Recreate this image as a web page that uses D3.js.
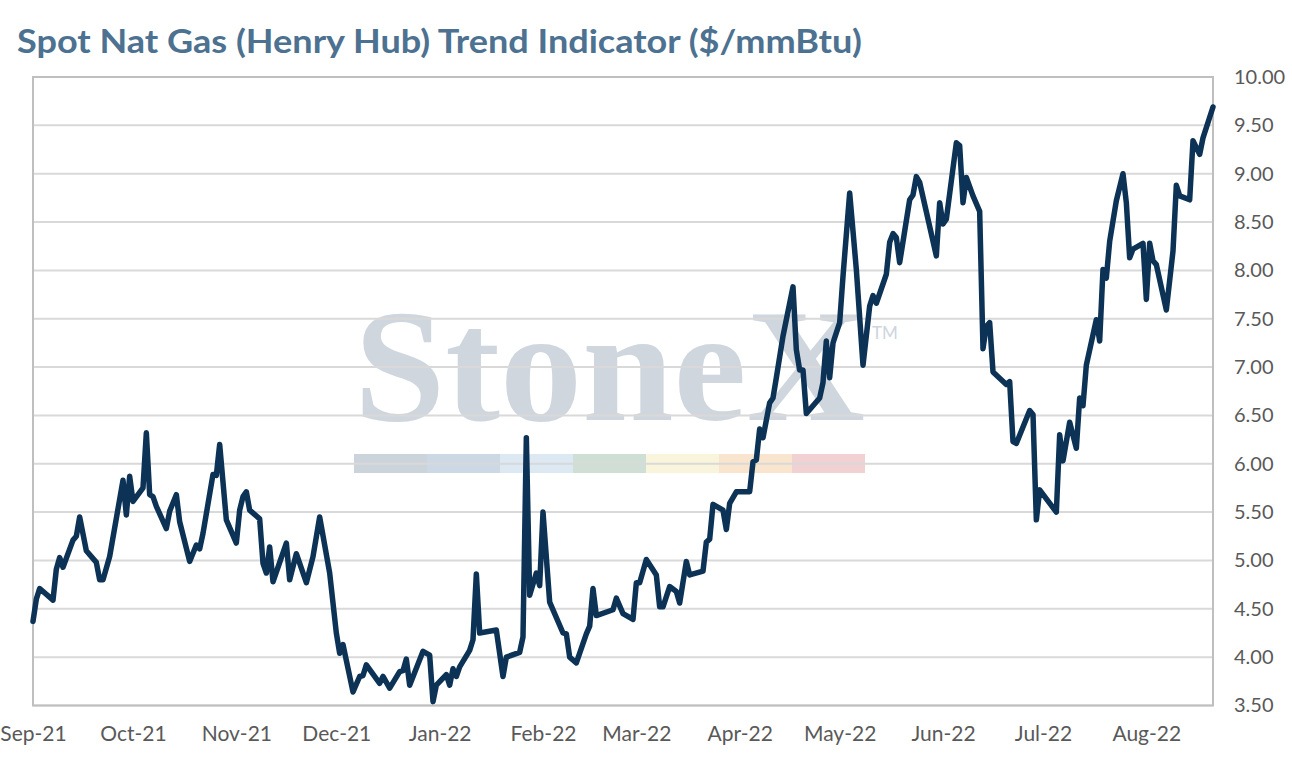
<!DOCTYPE html>
<html>
<head>
<meta charset="utf-8">
<script src="https://cdn.jsdelivr.net/npm/d3@7"></script>
<style>
  body { margin: 0; background: #fff; }
</style>
</head>
<body>
<div id="chart"></div>
<script>
// chart data
// days since 1 Sep 2021 and the spot price on that day
var days = [
  0, 1, 2, 6, 7, 8, 9, 12, 13, 14, 16, 19, 20, 21, 23, 27, 28, 29, 30, 33,
  34, 35, 36, 37, 40, 41, 43, 44, 47, 49, 50, 51, 54, 55, 56, 58, 61, 62, 63, 64,
  65, 68, 69, 70, 71, 72, 76, 77, 79, 82, 84, 86, 89, 91, 92, 93, 96, 98, 99, 100,
  104, 105, 107, 110, 111, 112, 113, 117, 119, 120, 121, 124, 125, 126, 127, 128, 131, 132, 133, 134,
  139, 141, 142, 146, 147, 148, 149, 151, 152, 153, 155, 159, 160, 161, 163, 166, 167, 168, 169, 174,
  175, 177, 180, 181, 182, 184, 187, 188, 189, 191, 193, 194, 196, 197, 201, 202, 203, 204, 207, 208,
  209, 211, 215, 216, 217, 218, 219, 221, 222, 223, 225, 228, 229, 230, 231, 232, 236, 237, 238, 239,
  240, 242, 243, 245, 247, 249, 251, 252, 253, 256, 257, 258, 259, 260, 263, 264, 265, 266, 271, 272,
  273, 274, 277, 278, 279, 280, 282, 284, 285, 286, 287, 288, 292, 293, 294, 295, 299, 300, 301, 302,
  307, 308, 309, 311, 313, 314, 315, 316, 319, 320, 321, 322, 323, 325, 327, 328, 329, 330, 333, 334,
  335, 336, 337, 340, 342, 343, 344, 347, 348, 350, 351, 354
];
var prices = [
  4.37, 4.60, 4.71, 4.59, 4.91, 5.03, 4.93, 5.21, 5.25, 5.45, 5.10, 4.98, 4.80, 4.80, 5.04, 5.83, 5.47, 5.87, 5.61, 5.75,
  6.32, 5.68, 5.66, 5.56, 5.33, 5.51, 5.68, 5.40, 4.99, 5.16, 5.12, 5.28, 5.89, 5.88, 6.20, 5.42, 5.18, 5.52, 5.66, 5.71,
  5.52, 5.43, 4.97, 4.87, 5.14, 4.78, 5.18, 4.80, 5.07, 4.77, 5.04, 5.45, 4.87, 4.25, 4.04, 4.13, 3.64, 3.80, 3.81, 3.92,
  3.73, 3.80, 3.68, 3.85, 3.86, 3.98, 3.71, 4.06, 4.02, 3.54, 3.71, 3.82, 3.71, 3.88, 3.80, 3.90, 4.07, 4.18, 4.86, 4.25,
  4.28, 3.80, 4.00, 4.05, 4.21, 6.27, 4.64, 4.87, 4.74, 5.50, 4.57, 4.25, 4.24, 4.00, 3.94, 4.24, 4.32, 4.71, 4.43, 4.49,
  4.61, 4.45, 4.39, 4.77, 4.77, 5.01, 4.85, 4.52, 4.52, 4.73, 4.68, 4.56, 4.99, 4.85, 4.89, 5.19, 5.22, 5.58, 5.52, 5.32,
  5.59, 5.71, 5.71, 6.02, 6.04, 6.36, 6.27, 6.63, 6.68, 6.89, 7.32, 7.83, 7.18, 6.97, 6.97, 6.52, 6.68, 6.84, 7.27, 6.89,
  7.25, 7.46, 7.94, 8.80, 8.01, 7.02, 7.63, 7.74, 7.66, 7.96, 8.29, 8.38, 8.34, 8.08, 8.73, 8.78, 8.97, 8.91, 8.15, 8.70,
  8.48, 8.53, 9.32, 9.29, 8.70, 8.96, 8.77, 8.61, 7.19, 7.42, 7.46, 6.95, 6.82, 6.85, 6.23, 6.21, 6.55, 6.51, 5.42, 5.73,
  5.50, 6.30, 6.03, 6.43, 6.16, 6.68, 6.60, 7.02, 7.49, 7.27, 8.01, 7.92, 8.30, 8.72, 9.00, 8.70, 8.13, 8.22, 8.28, 7.70,
  8.28, 8.10, 8.06, 7.59, 8.20, 8.88, 8.77, 8.73, 9.34, 9.20, 9.37, 9.69
];
var yTicks = [3.5, 4, 4.5, 5, 5.5, 6, 6.5, 7, 7.5, 8, 8.5, 9, 9.5, 10];
var monthTicks = ["2021-09-01", "2021-10-01", "2021-11-01", "2021-12-01", "2022-01-01", "2022-02-01",
  "2022-03-01", "2022-04-01", "2022-05-01", "2022-06-01", "2022-07-01", "2022-08-01"];
var stripeColors = ["#cbd3db", "#ccd8e4", "#dce8f2", "#cfdfd5", "#f8f5dc", "#f9e5cd", "#f1d1d2"];

var svgWidth = 1292;
var svgHeight = 767;
var margin = { top: 77, right: 79, bottom: 61.5, left: 33 };
var width = svgWidth - margin.left - margin.right;
var height = svgHeight - margin.top - margin.bottom;

var parseDate = d3.timeParse("%Y-%m-%d");
var startDate = parseDate("2021-09-01");
var data = days.map(function(d, i) {
  return { date: d3.timeDay.offset(startDate, d), price: prices[i] };
});

var svg = d3.select("#chart")
  .append("svg")
  .attr("width", svgWidth)
  .attr("height", svgHeight)
  .style("font-family", "Lato, 'Open Sans', sans-serif");

// title
svg.append("text")
  .attr("x", 17)
  .attr("y", 53)
  .attr("fill", "#4d7190")
  .attr("font-size", "32px")
  .attr("font-weight", "bold")
  .attr("textLength", 845)
  .attr("lengthAdjust", "spacingAndGlyphs")
  .text("Spot Nat Gas (Henry Hub) Trend Indicator ($/mmBtu)");

var chartGroup = svg.append("g")
  .attr("transform", `translate(${margin.left}, ${margin.top})`);

var xScale = d3.scaleTime()
  .domain([startDate, d3.timeDay.offset(startDate, 354)])
  .range([0, width]);

var yScale = d3.scaleLinear()
  .domain([3.5, 10])
  .range([height, 0]);

// watermark, sits under the grid
var wm = chartGroup.append("g").attr("transform", "translate(321, 0)");
wm.append("text")
  .attr("x", 0)
  .attr("y", 343)
  .style("font-family", "'Liberation Serif', 'DejaVu Serif', serif")
  .attr("font-size", "162px")
  .attr("font-weight", "bold")
  .attr("fill", "#cfd6de")
  .attr("textLength", 511)
  .attr("lengthAdjust", "spacingAndGlyphs")
  .text("StoneX");
wm.append("text")
  .attr("x", 518)
  .attr("y", 262)
  .attr("font-size", "17px")
  .attr("fill", "#cdd5dd")
  .text("TM");
wm.selectAll("rect")
  .data(stripeColors)
  .enter()
  .append("rect")
  .attr("x", (d, i) => i * 73)
  .attr("y", 377)
  .attr("width", 73)
  .attr("height", 19)
  .attr("fill", d => d);

// gridlines
chartGroup.append("g")
  .selectAll("line")
  .data(yTicks)
  .enter()
  .append("line")
  .attr("x1", 0)
  .attr("x2", width)
  .attr("y1", d => yScale(d))
  .attr("y2", d => yScale(d))
  .attr("stroke", "#d9d9d9")
  .attr("stroke-width", 2);

// plot frame
chartGroup.append("rect")
  .attr("width", width)
  .attr("height", height)
  .attr("fill", "none")
  .attr("stroke", "#bfbfbf")
  .attr("stroke-width", 2);

// y axis on the right
var yAxis = d3.axisRight(yScale)
  .tickValues(yTicks)
  .tickFormat(d3.format(".2f"))
  .tickSize(0)
  .tickPadding(21);
var yAxisG = chartGroup.append("g")
  .attr("transform", `translate(${width}, 0)`)
  .call(yAxis);
yAxisG.select(".domain").remove();
yAxisG.selectAll("text")
  .attr("font-family", "Lato, sans-serif")
  .attr("font-size", "20px")
  .attr("fill", "#595959");

// x axis
var xAxis = d3.axisBottom(xScale)
  .tickValues(monthTicks.map(parseDate))
  .tickFormat(d3.timeFormat("%b-%y"))
  .tickSize(0)
  .tickPadding(21);
var xAxisG = chartGroup.append("g")
  .attr("transform", `translate(0, ${height})`)
  .call(xAxis);
xAxisG.select(".domain").remove();
xAxisG.selectAll("text")
  .attr("font-family", "Lato, sans-serif")
  .attr("font-size", "21px")
  .attr("fill", "#595959");

// price line
var line = d3.line()
  .x(d => xScale(d.date))
  .y(d => yScale(d.price));

chartGroup.append("path")
  .datum(data)
  .attr("d", line)
  .attr("fill", "none")
  .attr("stroke", "#0c3256")
  .attr("stroke-width", 5.5)
  .attr("stroke-linejoin", "round")
  .attr("stroke-linecap", "round");
</script>
</body>
</html>
